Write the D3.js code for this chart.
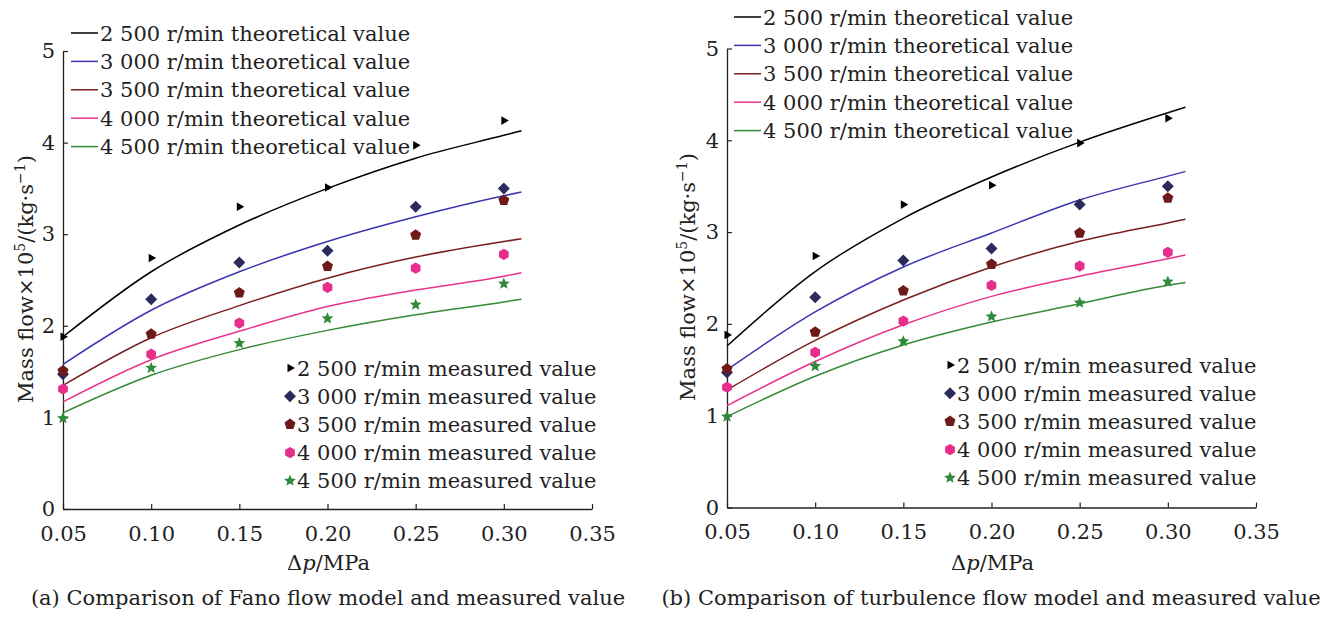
<!DOCTYPE html>
<html>
<head>
<meta charset="utf-8">
<script src="https://cdn.jsdelivr.net/npm/d3@7"></script>
<style>
  body { margin: 0; background: #fff; }
  text { font-family: "DejaVu Serif", serif; fill: #222; }
</style>
</head>
<body>
<div class="container"></div>
<script>
// pressure difference (MPa)
var pressure = [0.05, 0.10, 0.15, 0.20, 0.25, 0.30];
var curvePressure = [0.05, 0.10, 0.15, 0.20, 0.25, 0.30, 0.31];
var speeds = ["2 500", "3 000", "3 500", "4 000", "4 500"];
var xTicks = [0.05, 0.10, 0.15, 0.20, 0.25, 0.30, 0.35];
var yTicks = [0, 1, 2, 3, 4, 5];

// measured mass flow (x10^5 kg/s), same in both panels
var meas2500 = [1.88, 2.74, 3.30, 3.51, 3.97, 4.24];
var meas3000 = [1.47, 2.29, 2.69, 2.82, 3.30, 3.50];
var meas3500 = [1.51, 1.91, 2.36, 2.65, 2.99, 3.37];
var meas4000 = [1.31, 1.69, 2.03, 2.42, 2.63, 2.78];
var meas4500 = [0.99, 1.54, 1.81, 2.08, 2.23, 2.46];

// (a) Fano model theoretical values
var fano2500 = [1.88, 2.59, 3.10, 3.50, 3.83, 4.08, 4.13];
var fano3000 = [1.58, 2.17, 2.59, 2.92, 3.19, 3.42, 3.46];
var fano3500 = [1.35, 1.87, 2.22, 2.52, 2.75, 2.92, 2.95];
var fano4000 = [1.17, 1.63, 1.94, 2.21, 2.39, 2.54, 2.58];
var fano4500 = [1.05, 1.46, 1.74, 1.95, 2.12, 2.26, 2.29];

// (b) turbulence model theoretical values
var turb2500 = [1.76, 2.57, 3.15, 3.60, 3.98, 4.30, 4.36];
var turb3000 = [1.50, 2.13, 2.62, 2.99, 3.35, 3.61, 3.66];
var turb3500 = [1.28, 1.82, 2.26, 2.62, 2.90, 3.10, 3.14];
var turb4000 = [1.11, 1.59, 1.99, 2.30, 2.52, 2.71, 2.75];
var turb4500 = [0.99, 1.43, 1.77, 2.02, 2.22, 2.42, 2.45];

var lineColors = ['#000000', '#3b35b0', '#7a1f1f', '#e8338c', '#358a38'];
var markColors = ['#000000', '#2c2a5c', '#6e1a1a', '#e62e8a', '#2f8a3a'];

// marker shapes, size = radius in px
function polygon(n, rot) {
	return {draw: function(ctx, r) {
		for (var k = 0; k < n; k++) {
			var a = rot + k * 2 * Math.PI / n;
			if (k == 0) ctx.moveTo(r * Math.cos(a), r * Math.sin(a));
			else ctx.lineTo(r * Math.cos(a), r * Math.sin(a));
		}
		ctx.closePath();
	}};
}
var star = {draw: function(ctx, r) {
	for (var k = 0; k < 10; k++) {
		var a = -Math.PI / 2 + k * Math.PI / 5;
		var rr = k % 2 ? r * 0.45 : r;
		if (k == 0) ctx.moveTo(rr * Math.cos(a), rr * Math.sin(a));
		else ctx.lineTo(rr * Math.cos(a), rr * Math.sin(a));
	}
	ctx.closePath();
}};
var shapes = [polygon(3, 0), polygon(4, -Math.PI / 2), polygon(5, -Math.PI / 2), polygon(6, -Math.PI / 2), star];
var shapeSizes = [5, 6, 5.8, 5.6, 6.2];

var measured = [meas2500, meas3000, meas3500, meas4000, meas4500];

var svg = d3.select('.container').append('svg')
	.attr('width', 1331)
	.attr('height', 617);

function drawPanel(cfg) {
	var x = d3.scaleLinear().domain([0.05, 0.35]).range([cfg.left, cfg.right]);
	var y = d3.scaleLinear().domain([0, 5]).range([cfg.bottom, cfg.top]);
	var g = svg.append('g');

	// axes
	var xAxis = g.append('g').attr('transform', 'translate(0,' + cfg.bottom + ')')
		.call(d3.axisBottom(x).tickValues(xTicks).tickSizeInner(-5).tickSizeOuter(0).tickPadding(17)
			.tickFormat(d3.format('.2f')));
	var yAxis = g.append('g').attr('transform', 'translate(' + cfg.left + ',0)')
		.call(d3.axisLeft(y).tickValues(yTicks).tickSizeInner(-5).tickSizeOuter(0).tickPadding(8)
			.tickFormat(d3.format('d')));
	[xAxis, yAxis].forEach(function(a) {
		a.select('.domain').attr('stroke', '#222').attr('stroke-width', 1.3);
		a.selectAll('.tick line').attr('stroke', '#222').attr('stroke-width', 1.2);
		a.selectAll('.tick text').style('font-family', '"DejaVu Serif", serif').style('font-size', '21px').attr('fill', '#222');
	});

	// theoretical curves
	var line = d3.line()
		.x(function(d) { return x(d[0]); })
		.y(function(d) { return y(d[1]); })
		.curve(d3.curveMonotoneX);
	cfg.theory.forEach(function(s, i) {
		g.append('path')
			.datum(curvePressure.map(function(p, j) { return [p, s[j]]; }))
			.attr('d', line)
			.attr('fill', 'none')
			.attr('stroke', lineColors[i])
			.attr('stroke-width', 1.5);
	});

	// measured points
	measured.forEach(function(s, i) {
		g.selectAll(null).data(s).enter().append('path')
			.attr('transform', function(d, j) { return 'translate(' + x(pressure[j]) + ',' + y(d) + ')'; })
			.attr('d', d3.symbol().type(shapes[i]).size(shapeSizes[i]))
			.attr('fill', markColors[i]);
	});

	// theoretical legend
	speeds.forEach(function(sp, i) {
		var ly = cfg.legT[1] + i * 28.4;
		g.append('line')
			.attr('x1', cfg.legT[0]).attr('x2', cfg.legT[0] + 27)
			.attr('y1', ly).attr('y2', ly)
			.attr('stroke', lineColors[i]).attr('stroke-width', 1.5);
		g.append('text')
			.attr('x', cfg.legT[0] + 29).attr('y', ly + 7.5)
			.style('font-size', '21px')
			.text(sp + ' r/min theoretical value');
	});

	// measured legend
	speeds.forEach(function(sp, i) {
		var ly = cfg.legM[1] + i * 28.2;
		g.append('path')
			.attr('transform', 'translate(' + cfg.legM[0] + ',' + ly + ')')
			.attr('d', d3.symbol().type(shapes[i]).size(shapeSizes[i]))
			.attr('fill', markColors[i]);
		g.append('text')
			.attr('x', cfg.legM[0] + 7).attr('y', ly + 7.5)
			.style('font-size', '21px')
			.text(sp + ' r/min measured value');
	});

	// axis titles
	var xt = g.append('text')
		.attr('x', (cfg.left + cfg.right) / 2 + 1).attr('y', 570)
		.attr('text-anchor', 'middle')
		.style('font-size', '21px');
	xt.append('tspan').text('\u0394');
	xt.append('tspan').style('font-style', 'italic').text('p');
	xt.append('tspan').text('/MPa');

	var yt = g.append('text')
		.attr('transform', 'translate(' + cfg.ylabX + ',' + cfg.ylabY + ') rotate(-90)')
		.attr('text-anchor', 'middle')
		.style('font-size', '21px');
	yt.append('tspan').text('Mass flow\u00d710');
	yt.append('tspan').attr('dy', -8).style('font-size', '14px').text('5');
	yt.append('tspan').attr('dy', 8).text('/(kg\u00b7s');
	yt.append('tspan').attr('dy', -8).style('font-size', '14px').text('\u22121');
	yt.append('tspan').attr('dy', 8).text(')');

	g.append('text')
		.attr('x', cfg.capX).attr('y', 605)
		.attr('text-anchor', 'middle')
		.style('font-size', '21px')
		.text(cfg.caption);
}

drawPanel({
	left: 63, right: 592, top: 51, bottom: 509,
	theory: [fano2500, fano3000, fano3500, fano4000, fano4500],
	legT: [71, 33], legM: [290, 368],
	ylabX: 33, ylabY: 279,
	capX: 328,
	caption: '(a) Comparison of Fano flow model and measured value'
});
drawPanel({
	left: 727, right: 1256, top: 48.5, bottom: 507.5,
	theory: [turb2500, turb3000, turb3500, turb4000, turb4500],
	legT: [734, 17], legM: [950, 365],
	ylabX: 695, ylabY: 277,
	capX: 991,
	caption: '(b) Comparison of turbulence flow model and measured value'
});
</script>
</body>
</html>
